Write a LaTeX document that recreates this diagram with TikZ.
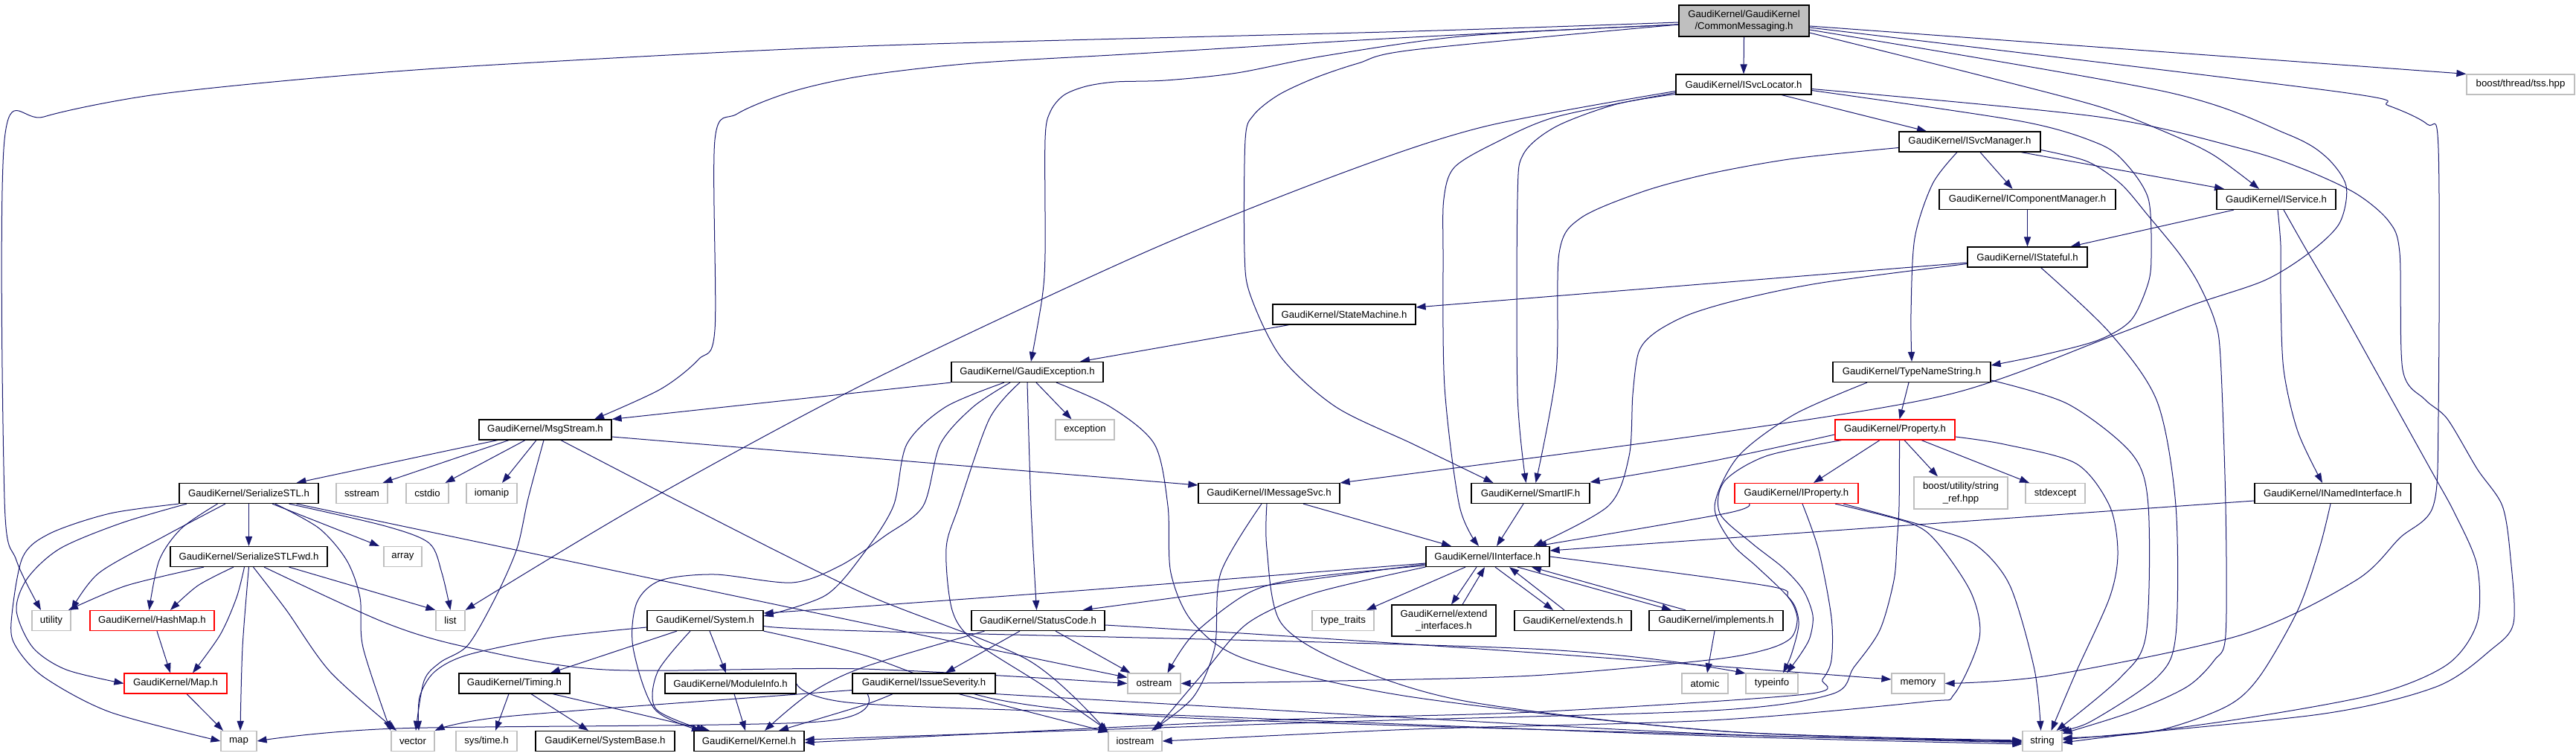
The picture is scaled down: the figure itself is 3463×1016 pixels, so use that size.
\documentclass[tikz,border=0pt]{standalone}
\usepackage{fontspec}
\setmainfont{Liberation Sans}
\usetikzlibrary{arrows.meta}
\definecolor{eblue}{HTML}{191970}
\definecolor{gsf}{HTML}{BFBFBF}
\pgfdeclarelayer{bg}
\pgfsetlayers{bg,main}
\newcommand\nd[7]{\node[#1,minimum width=#5pt,minimum height=#6pt] (#2) at (#3,#4) {#7};}
\begin{document}
\begin{tikzpicture}[x=0.5pt,y=-0.5pt,
  hbox/.style={draw=black,line width=0.6pt,fill=white,inner sep=0pt,align=center,font=\fontsize{6.6}{8.4}\selectfont},
  sbox/.style={hbox,draw=gsf},
  rbox/.style={hbox,draw=red},
  cbox/.style={hbox,fill=gsf},
  edg/.style={draw=eblue,line width=0.5pt,-{Triangle[length=6.5pt,width=4.6pt]}}]
\useasboundingbox (0,0) rectangle (3463,1016);
% nodes
\nd{cbox}{cm}{2344.5}{28}{87.5}{21}{GaudiKernel/GaudiKernel\\/CommonMessaging.h}
\nd{hbox}{isl}{2344}{113.5}{91}{13.5}{GaudiKernel/ISvcLocator.h}
\nd{sbox}{tss}{3388.5}{113.5}{72.5}{13.5}{boost/thread/tss.hpp}
\nd{hbox}{ism}{2648}{190.5}{95}{13.5}{GaudiKernel/ISvcManager.h}
\nd{hbox}{icm}{2725.5}{268}{118.5}{13.5}{GaudiKernel/IComponentManager.h}
\nd{hbox}{isvc}{3060}{268}{80}{13.5}{GaudiKernel/IService.h}
\nd{hbox}{ist}{2725.5}{345.5}{80.5}{13.5}{GaudiKernel/IStateful.h}
\nd{hbox}{sm}{1807}{422.5}{96}{13.5}{GaudiKernel/StateMachine.h}
\nd{hbox}{ge}{1381}{500}{102}{13.5}{GaudiKernel/GaudiException.h}
\nd{hbox}{tns}{2570}{500}{106}{13.5}{GaudiKernel/TypeNameString.h}
\nd{hbox}{ms}{733}{577.5}{89}{13.5}{GaudiKernel/MsgStream.h}
\nd{sbox}{exc}{1458.5}{577.5}{39.5}{13.5}{exception}
\nd{rbox}{prop}{2547.5}{577.5}{80.5}{13.5}{GaudiKernel/Property.h}
\nd{hbox}{sstl}{334.5}{663}{93.5}{13.5}{GaudiKernel/SerializeSTL.h}
\nd{sbox}{sstream}{486.5}{663}{34.5}{13.5}{sstream}
\nd{sbox}{cstdio}{574.5}{663}{28.5}{13.5}{cstdio}
\nd{sbox}{iomanip}{661}{663}{34}{13.5}{iomanip}
\nd{hbox}{imsg}{1706}{663}{95}{13.5}{GaudiKernel/IMessageSvc.h}
\nd{hbox}{sif}{2057.5}{663}{79.5}{13.5}{GaudiKernel/SmartIF.h}
\nd{rbox}{iprop}{2415}{663}{83}{13.5}{GaudiKernel/IProperty.h}
\nd{sbox}{sref}{2636}{662.5}{63}{21.5}{boost/utility/string\\\_ref.hpp}
\nd{sbox}{stdexc}{2763}{663}{40}{13.5}{stdexcept}
\nd{hbox}{ini}{3136}{663}{105}{13.5}{GaudiKernel/INamedInterface.h}
\nd{hbox}{sfwd}{334.5}{748}{105.5}{13.5}{GaudiKernel/SerializeSTLFwd.h}
\nd{sbox}{arr}{541.5}{748}{25.5}{13.5}{array}
\nd{hbox}{iif}{2000}{748}{83}{13.5}{GaudiKernel/IInterface.h}
\nd{sbox}{util}{69}{834}{26}{13.5}{utility}
\nd{rbox}{hmap}{204.5}{834}{83.5}{13.5}{GaudiKernel/HashMap.h}
\nd{sbox}{lst}{605.5}{834}{19.5}{13.5}{list}
\nd{hbox}{sys}{948}{834}{78}{13.5}{GaudiKernel/System.h}
\nd{hbox}{sc}{1395.5}{834}{89.5}{13.5}{GaudiKernel/StatusCode.h}
\nd{sbox}{tt}{1805.5}{834}{41.5}{13.5}{type\_traits}
\nd{hbox}{ei}{1941}{834}{70}{21}{GaudiKernel/extend\\\_interfaces.h}
\nd{hbox}{ext}{2114.5}{834}{78.5}{13.5}{GaudiKernel/extends.h}
\nd{hbox}{impl}{2307}{834}{90}{13.5}{GaudiKernel/implements.h}
\nd{rbox}{maph}{236}{918.5}{69}{13.5}{GaudiKernel/Map.h}
\nd{hbox}{tim}{691.5}{918.5}{74.5}{13.5}{GaudiKernel/Timing.h}
\nd{hbox}{mi}{982}{918.5}{88}{13.5}{GaudiKernel/ModuleInfo.h}
\nd{hbox}{iss}{1242}{918.5}{96}{13.5}{GaudiKernel/IssueSeverity.h}
\nd{sbox}{ost}{1551.5}{918.5}{35.5}{13.5}{ostream}
\nd{sbox}{atom}{2292}{918.5}{31}{13.5}{atomic}
\nd{sbox}{tinfo}{2382}{918.5}{35}{13.5}{typeinfo}
\nd{sbox}{mem}{2578.5}{918.5}{35.5}{13.5}{memory}
\nd{sbox}{mapstd}{321}{996}{24}{13.5}{map}
\nd{sbox}{vec}{555}{996}{29}{13.5}{vector}
\nd{sbox}{stime}{654}{996}{41}{13.5}{sys/time.h}
\nd{hbox}{sbase}{813.5}{996}{93.5}{13.5}{GaudiKernel/SystemBase.h}
\nd{hbox}{kern}{1007}{996}{74}{13.5}{GaudiKernel/Kernel.h}
\nd{sbox}{iost}{1526}{996}{36}{13.5}{iostream}
\nd{sbox}{str}{2745.5}{996}{26.5}{13.5}{string}
\begin{pgfonlayer}{bg}
\fill[white] (0,0) rectangle (3463,1016);
% CommonMessaging
\draw[edg] (cm.south) -- (isl.north);
\draw[edg] ([yshift=-3.5pt]cm.east) -- (tss.north west);
\draw[edg] plot[smooth,tension=.5] coordinates {([yshift=-8pt]cm.east) (2657,100) (2821,143) (2910,177) (2975,208) ([xshift=-11.5pt]isvc.north)};
\draw[edg] plot[smooth,tension=.5] coordinates {([yshift=-6pt]cm.east) (2910,123) (3074,180) (3126,210) (3154,250) (3145,300) (3104,340) (3044,377) (2947,410) (2836,453) (2620,530) (2300,583) (imsg.north east)};
\draw[edg] plot[smooth,tension=.5] coordinates {([yshift=-4.5pt]cm.east) (3141,123) (3211,142) (3263,167) (3278,200) (3278,557) (3271,680) (3226,723) (3167,780) (3014,853) (2754,908) (mem.east)};
\draw[edg] plot[smooth,tension=.5] coordinates {([yshift=-1pt]cm.west) (1899,42) (1160,62) (666,87) (422,105) (203,128) (59,157) (6,188) (6,670) (22,753) ([xshift=-7pt]util.north)};
\draw[edg] plot[smooth,tension=.5] coordinates {([yshift=-2.5pt]cm.west) (1899,50) (1530,72) (1308,85) (1160,102) (1065,123) (991,153) (961,188) (961,443) (939,483) (888,523) ([xshift=33pt]ms.north)};
\draw[edg] plot[smooth,tension=.5] coordinates {([yshift=-2.5pt]cm.west) (1974,48) (1781,75) (1663,98) (1567,108) (1500,110) (1460,116) (1430,128) (1412,150) (1405,187) (1405,340) (1401,400) ([xshift=2.5pt]ge.north)};
\draw[edg] plot[smooth,tension=.5] coordinates {([yshift=-2.5pt]cm.west) (1900,67) (1826,85) (1767,105) (1718,128) (1685,155) (1674,188) (1673,340) (1681,397) (1722,480) (1796,547) (1900,597) ([xshift=-25pt]sif.north)};
% ISvcLocator
\draw[edg] ([xshift=25.5pt]isl.south) -- ([xshift=-29pt]ism.north);
\draw[edg] plot[smooth,tension=.5] coordinates {([yshift=-4.5pt]isl.west) (1996,170) (1803,233) (1537,340) (1160,517) (858,680) (lst.north east)};
\draw[edg] plot[smooth,tension=.5] coordinates {([yshift=-5.5pt]isl.west) (2092,157) (2010,192) (1955,225) (1941,267) (1940,340) (1942,520) (1962,680) ([xshift=-6pt]iif.north)};
\draw[edg] plot[smooth,tension=.5] coordinates {([yshift=-6.5pt]isl.west) (2173,140) (2092,170) (2048,207) (2040,267) (2040,530) ([xshift=-3pt]sif.north)};
\draw[edg] plot[smooth,tension=.5] coordinates {([yshift=-4pt]isl.east) (2717,163) (2821,193) (2858,220) (2888,267) (2892,340) (2888,380) (2865,430) (2821,457) (2746,477) ([yshift=4.5pt]tns.east)};
\draw[edg] plot[smooth,tension=.5] coordinates {([yshift=-3pt]isl.east) (2821,157) (3014,200) (3096,227) (3167,260) (3211,297) (3226,340) (3230,497) (3260,537) (3290,563) (3330,630) (3364,680) (3375,750) (3379,837) (3349,873) (3275,923) (3118,960) ([yshift=1pt]str.east)};
% ISvcManager
\draw[edg] ([xshift=7pt]ism.south) -- ([xshift=-10pt]icm.north);
\draw[edg] ([xshift=34.5pt]ism.south) -- ([xshift=-35pt]isvc.north);
\draw[edg] plot[smooth,tension=.5] coordinates {([xshift=-8.5pt]ism.south) (2598,247) (2574,320) (2569,420) (tns.north)};
\draw[edg] plot[smooth,tension=.5] coordinates {([yshift=-4pt]ism.west) (2412,213) (2300,233) (2210,257) (2125,293) (2096,340) (2092,500) ([xshift=3.5pt]sif.north)};
\draw[edg] plot[smooth,tension=.5] coordinates {([yshift=-5.5pt]ism.east) (2806,217) (2851,247) (2888,290) (2929,340) (2955,380) (2977,430) (2985,480) (2992,680) (2992,853) (2977,887) (2940,923) (2865,957) ([yshift=-2pt]str.north east)};
% IComponentManager, IService, IStateful
\draw[edg] (icm.south) -- (ist.north);
\draw[edg] ([xshift=-28.5pt]isvc.south) -- ([xshift=29pt]ist.north);
\draw[edg] plot[smooth,tension=.5] coordinates {([xshift=1pt]isvc.south) (3066,330) (3066,397) (3070,497) (3089,580) ([xshift=-7pt]ini.north)};
\draw[edg] plot[smooth,tension=.5] coordinates {([xshift=5pt]isvc.south) (3100,335) (3150,420) (3193,497) (3267,630) (3300,690) (3330,760) (3330,837) (3290,893) (3193,933) (3000,968) ([yshift=-1pt]str.east)};
\draw[edg] ([yshift=-3.75pt]ist.west) -- ([yshift=4.75pt]sm.east);
\draw[edg] plot[smooth,tension=.5] coordinates {([yshift=-4.5pt]ist.west) (2449,380) (2337,403) (2270,423) (2225,447) (2203,473) (2195,530) (2190,613) (2162,680) ([xshift=31pt]iif.north)};
\draw[edg] plot[smooth,tension=.5] coordinates {([xshift=9pt]ist.south) (2836,447) (2900,540) (2925,680) (2925,853) (2900,910) (2810,970) ([xshift=-2pt]str.north east)};
\draw[edg] ([xshift=-37pt]sm.south) -- ([xshift=35.5pt]ge.north);
% GaudiException
\draw[edg] (ge.south west) -- (ms.north east);
\draw[edg] ([xshift=6pt]ge.south) -- ([xshift=-9pt]exc.north);
\draw[edg] plot[smooth,tension=.5] coordinates {(ge.south) (1386,680) ([xshift=-1pt]sc.north)};
\draw[edg] plot[smooth,tension=.5] coordinates {([xshift=19.5pt]ge.south) (1493,547) (1552,597) (1570,680) (1574,770) (1604,837) (1678,887) (1900,937) (2320,983) (str.west)};
\draw[edg] plot[smooth,tension=.5] coordinates {([xshift=-5pt]ge.south) (1330,563) (1289,680) (1272,737) (1280,820) (1310,862) (1400,920) (iost.north west)};
\draw[edg] plot[smooth,tension=.5] coordinates {([xshift=-11.5pt]ge.south) (1308,547) (1264,597) (1241,680) (1190,720) (1130,760) (1065,783) (961,772) (888,780) (856,810) (851,870) (880,953) ([xshift=-32pt]kern.north)};
\draw[edg] plot[smooth,tension=.5] coordinates {([xshift=-15.5pt]ge.south) (1271,547) (1219,597) (1201,680) (1160,745) (1110,800) ([yshift=3pt]sys.east)};
% MsgStream
\draw[edg] plot[smooth,tension=.5] coordinates {([xshift=-32pt]ms.south) (600,606) ([xshift=32pt]sstl.north)};
\draw[edg] ([xshift=-24.5pt]ms.south) -- ([xshift=14pt]sstream.north);
\draw[edg] ([xshift=-13.5pt]ms.south) -- ([xshift=12pt]cstdio.north);
\draw[edg] ([xshift=-6pt]ms.south) -- ([xshift=7pt]iomanip.north);
\draw[edg] plot[smooth,tension=.5] coordinates {([xshift=-1pt]ms.south) (710,670) (695,737) (666,803) (629,867) (592,890) (570,915) ([xshift=2pt]vec.north)};
\draw[edg] ([yshift=-4.75pt]ms.east) -- ([yshift=5.5pt]imsg.west);
\draw[edg] plot[smooth,tension=.5] coordinates {([xshift=10.5pt]ms.south) (925,680) (1160,797) (1382,887) ([yshift=-1.5pt]iost.north west)};
% SerializeSTL
\draw[edg] (sstl.south) -- (sfwd.north);
\draw[edg] ([xshift=15.75pt]sstl.south) -- ([xshift=-15.75pt]arr.north);
\draw[edg] plot[smooth,tension=.5] coordinates {([xshift=27pt]sstl.south) (518,707) (577,730) (594,770) (lst.north)};
\draw[edg] plot[smooth,tension=.5] coordinates {([xshift=-15.75pt]sstl.south) (222,720) (133,770) ([xshift=13.5pt]util.north)};
\draw[edg] plot[smooth,tension=.5] coordinates {([xshift=-21pt]sstl.south) (244,710) (214,753) ([xshift=-2pt]hmap.north)};
\draw[edg] plot[smooth,tension=.5] coordinates {([xshift=-41.75pt]sstl.south) (163,703) (81,737) (37,777) (22,820) (44,870) (89,900) (maph.west)};
\draw[edg] plot[smooth,tension=.5] coordinates {(sstl.south west) (148,690) (67,717) (30,750) (15,837) (22,870) (59,910) (148,957) (mapstd.west)};
\draw[edg] plot[smooth,tension=.5] coordinates {([xshift=17.75pt]sstl.south) (429,710) (466,753) (484,803) (488,870) ([xshift=-15pt]vec.north)};
\draw[edg] plot[smooth,tension=.5] coordinates {([xshift=32pt]sstl.south) (1160,837) ([yshift=4pt]ost.west)};
% SerializeSTLFwd
\draw[edg] plot[smooth,tension=.5] coordinates {([xshift=-30.25pt]sfwd.south) (170,787) ([xshift=11.5pt]util.north)};
\draw[edg] plot[smooth,tension=.5] coordinates {([xshift=-10.25pt]sfwd.south) (266,787) ([xshift=12.25pt]hmap.north)};
\draw[edg] plot[smooth,tension=.5] coordinates {([xshift=-3pt]sfwd.south) (318,803) (296,853) ([xshift=11.5pt]maph.north)};
\draw[edg] plot[smooth,tension=.5] coordinates {(sfwd.south) (326,870) ([xshift=1pt]mapstd.north)};
\draw[edg] plot[smooth,tension=.5] coordinates {([xshift=3pt]sfwd.south) (385,820) (444,903) ([xshift=-11pt]vec.north)};
\draw[edg] ([xshift=27pt]sfwd.south) -- (lst.north west);
\draw[edg] plot[smooth,tension=.5] coordinates {([xshift=10.25pt]sfwd.south) (518,837) (629,870) (814,900) (1160,899) (ost.west)};
\draw[edg] ([xshift=3.25pt]hmap.south) -- ([xshift=-3.5pt]maph.north);
\draw[edg] ([xshift=7.5pt]maph.south) -- ([xshift=-10.5pt]mapstd.north);
% System
\draw[edg] ([xshift=-19pt]sys.south) -- ([xshift=24.25pt]tim.north);
\draw[edg] ([xshift=3pt]sys.south) -- ([xshift=-3pt]mi.north);
\draw[edg] plot[smooth,tension=.5] coordinates {([yshift=-4.5pt]sys.west) (740,857) (629,880) (584,903) (564,937) ([xshift=4pt]vec.north)};
\draw[edg] plot[smooth,tension=.5] coordinates {([xshift=-10pt]sys.south) (884,903) (882,953) ([xshift=-29pt]kern.north)};
\draw[edg] plot[smooth,tension=.5] coordinates {([yshift=-3.5pt]sys.east) (1160,848) (2060,872) ([yshift=6.75pt]tinfo.west)};
\draw[edg] plot[smooth,tension=.5] coordinates {(sys.south east) (1160,880) (1340,940) (1600,965) (2300,987) ([yshift=-1pt]str.west)};
% Timing, ModuleInfo
\draw[edg] ([xshift=-3.75pt]tim.south) -- ([xshift=6pt]stime.north);
\draw[edg] ([xshift=11.25pt]tim.south) -- ([xshift=-11.25pt]sbase.north);
\draw[edg] ([xshift=25.75pt]tim.south) -- ([xshift=-26.5pt]kern.north);
\draw[edg] ([xshift=2.5pt]mi.south) -- ([xshift=-2.5pt]kern.north);
\draw[edg] plot[smooth,tension=.5] coordinates {(mi.east) (1150,945) (1600,962) (2300,989) ([yshift=-2pt]str.west)};
% StatusCode, IssueSeverity
\draw[edg] ([xshift=-12.25pt]sc.south) -- ([xshift=14.5pt]iss.north);
\draw[edg] ([xshift=11.75pt]sc.south) -- ([xshift=-16pt]ost.north);
\draw[edg] plot[smooth,tension=.5] coordinates {([xshift=-36pt]sc.south) (1160,897) (1087,933) ([xshift=10.5pt]kern.north)};
\draw[edg] plot[smooth,tension=.5] coordinates {([yshift=-3pt]sc.east) (1700,853) (2060,877) ([yshift=2.75pt]mem.west)};
\draw[edg] plot[smooth,tension=.5] coordinates {([xshift=-21pt]iss.south) (1160,948) ([xshift=20pt]kern.north)};
\draw[edg] ([xshift=23.5pt]iss.south) -- ([yshift=-1pt]iost.north west);
\draw[edg] plot[smooth,tension=.5] coordinates {([yshift=-4.5pt]iss.west) (1072,933) (680,963) (vec.north east)};
\draw[edg] plot[smooth,tension=.5] coordinates {([xshift=-38pt]iss.south) (1100,970) (533,979) (mapstd.east)};
\draw[edg] plot[smooth,tension=.5] coordinates {(iss.south east) (1900,965) (2320,987) ([yshift=-0.5pt]str.west)};
% IMessageSvc, SmartIF
\draw[edg] ([xshift=23pt]imsg.south) -- ([xshift=-24.5pt]iif.north);
\draw[edg] plot[smooth,tension=.5] coordinates {([xshift=-5pt]imsg.south) (1641,770) (1633,870) (1604,937) ([xshift=11pt]iost.north)};
\draw[edg] plot[smooth,tension=.5] coordinates {([xshift=-1.5pt]imsg.south) (1703,737) (1722,837) (1811,893) (1974,943) (2320,983) ([yshift=0.5pt]str.west)};
\draw[edg] ([xshift=-4.75pt]sif.south) -- ([xshift=6pt]iif.north);
% TypeNameString, Property, IProperty
\draw[edg] ([xshift=-2pt]tns.south) -- ([xshift=3pt]prop.north);
\draw[edg] plot[smooth,tension=.5] coordinates {([xshift=-30pt]tns.south) (2412,557) (2337,613) (2305,680) (2328,730) (2360,760) (2392,790) (2412,813) (2418,840) (2408,880) ([xshift=7.5pt]tinfo.north)};
\draw[edg] plot[smooth,tension=.5] coordinates {([yshift=-5.5pt]tns.east) (2780,543) (2866,610) (2888,680) (2885,853) (2851,910) ([xshift=-4pt]str.north east)};
\draw[edg] ([xshift=-10.25pt]prop.south) -- ([xshift=11.5pt]iprop.north);
\draw[edg] ([xshift=6.25pt]prop.south) -- ([xshift=-15.5pt]sref.north);
\draw[edg] ([xshift=17.75pt]prop.south) -- ([xshift=-17.5pt]stdexc.north);
\draw[edg] plot[smooth,tension=.5] coordinates {([yshift=-3.25pt]prop.west) (2300,620) ([yshift=7.5pt]sif.east)};
\draw[edg] plot[smooth,tension=.5] coordinates {([yshift=-4.75pt]prop.east) (2694,597) (2791,623) (2836,680) (2847,743) (2836,803) (2791,903) ([xshift=6pt]str.north)};
\draw[edg] plot[smooth,tension=.5] coordinates {([xshift=-36pt]prop.south) (2374,613) (2318,647) (2312,690) (2355,730) (2397,763) (2424,793) (2437,827) (2433,857) (2420,880) ([xshift=10pt]tinfo.north)};
\draw[edg] plot[smooth,tension=.5] coordinates {([xshift=3pt]prop.south) (2553,680) (2550,730) (2546,780) (2527,847) (2492,897) (2462,933) (2300,955) (1800,970) ([yshift=1pt]kern.east)};
\draw[edg] plot[smooth,tension=.5] coordinates {([xshift=10pt]iprop.south west) (2320,690) ([xshift=33pt]iif.north)};
\draw[edg] plot[smooth,tension=.5] coordinates {([xshift=4pt]iprop.south) (2445,740) (2462,830) (2462,887) (2450,913) (2427,933) (2060,957) (1700,968) ([yshift=-1pt]kern.east)};
\draw[edg] plot[smooth,tension=.5] coordinates {([xshift=31.5pt]iprop.south) (2598,710) (2657,733) (2702,787) (2735,900) ([xshift=-1pt]str.north)};
\draw[edg] plot[smooth,tension=.5] coordinates {([xshift=26pt]iprop.south) (2568,703) (2605,730) (2650,797) (2661,857) (2627,933) (2588,943) (2300,968) (1900,980) (iost.east)};
% INamedInterface
\draw[edg] ([yshift=-5pt]ini.west) -- ([yshift=4pt]iif.east);
\draw[edg] plot[smooth,tension=.5] coordinates {([xshift=-1.5pt]ini.south) (3118,737) (3089,820) (3037,910) (2992,950) (2895,983) ([yshift=2pt]str.east)};
% IInterface
\draw[edg] plot[smooth,tension=.5] coordinates {([yshift=-4.5pt]iif.west) (1500,790) (1160,815) ([yshift=5pt]sys.east)};
\draw[edg] ([yshift=-5pt]iif.west) -- ([xshift=30pt]sc.north);
\draw[edg] plot[smooth,tension=.5] coordinates {([yshift=-6pt]iif.west) (1752,777) (1678,797) (1604,853) ([xshift=9pt]ost.north)};
\draw[edg] plot[smooth,tension=.5] coordinates {([yshift=-7pt]iif.west) (1767,797) (1678,837) (1619,903) ([xshift=13pt]iost.north)};
\draw[edg] ([xshift=-15pt]iif.south) -- ([xshift=15.75pt]tt.north);
\draw[edg] ([xshift=-7.5pt]iif.south) -- ([xshift=5pt]ei.north);
\draw[edg] ([xshift=12.5pt]ei.north) -- ([xshift=-2pt]iif.south);
\draw[edg] ([xshift=5pt]iif.south) -- ([xshift=-13.25pt]ext.north);
\draw[edg] ([xshift=-5.75pt]ext.north) -- ([xshift=14.5pt]iif.south);
\draw[edg] ([xshift=20pt]iif.south) -- ([xshift=-30pt]impl.north);
\draw[edg] ([xshift=-20.5pt]impl.north) -- ([xshift=29.5pt]iif.south);
\draw[edg] ([xshift=-1pt]impl.south) -- ([xshift=1.5pt]atom.north);
\draw[edg] plot[smooth,tension=.5] coordinates {(iif.east) (2374,787) (2404,803) (2416,830) (2408,857) (2374,873) (2297,887) (2060,908) (1800,915) (ost.east)};
\end{pgfonlayer}
\end{tikzpicture}
\end{document}
